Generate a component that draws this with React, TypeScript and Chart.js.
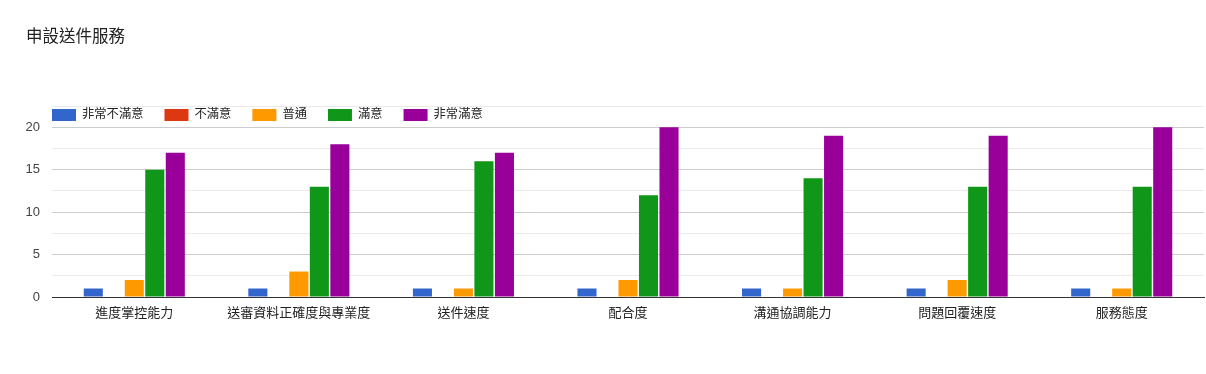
import React, { useEffect, useRef } from "react";
import { Chart, registerables } from "chart.js";

Chart.register(...registerables);

const title = "申設送件服務";
const categories = [
  "進度掌控能力",
  "送審資料正確度與專業度",
  "送件速度",
  "配合度",
  "溝通協調能力",
  "問題回覆速度",
  "服務態度",
];
const seriesNames = ["非常不滿意", "不滿意", "普通", "滿意", "非常滿意"];
const seriesColors = ["#3366cc", "#dc3912", "#ff9900", "#109618", "#990099"];
const veryUnsatisfied = [1, 1, 1, 1, 1, 1, 1];
const unsatisfied = [0, 0, 0, 0, 0, 0, 0];
const neutral = [2, 3, 1, 2, 1, 2, 1];
const satisfied = [15, 13, 16, 12, 14, 13, 13];
const verySatisfied = [17, 18, 17, 20, 19, 19, 20];
const seriesValues = [veryUnsatisfied, unsatisfied, neutral, satisfied, verySatisfied];
const yMax = 22.5;
const yStep = 2.5;

const FONT = "Arial, 'Liberation Sans', 'Noto Sans CJK TC', sans-serif";

const overlayPlugin = {
  id: "overlay",
  afterDraw(chart: any) {
    const ctx = chart.ctx;
    const area = chart.chartArea;
    ctx.save();
    // title
    ctx.fillStyle = "#212121";
    ctx.font = `16.5px ${FONT}`;
    ctx.textBaseline = "middle";
    ctx.textAlign = "left";
    ctx.fillText(title, 26, 37);
    // legend
    ctx.font = `12.3px ${FONT}`;
    let x = area.left;
    const y = 115;
    seriesNames.forEach((name, i) => {
      ctx.fillStyle = seriesColors[i];
      ctx.fillRect(x, y - 6, 24, 12);
      ctx.fillStyle = "#222222";
      ctx.fillText(name, x + 30, y);
      const w = ctx.measureText(name).width;
      x += 30 + w + 21;
    });
    ctx.restore();
  },
};

export default function App() {
  const ref = useRef<HTMLCanvasElement>(null);
  useEffect(() => {
    document.body.style.margin = "0";
    const chart = new Chart(ref.current!, {
      type: "bar",
      data: {
        labels: categories,
        datasets: seriesNames.map((name, i) => ({
          label: name,
          data: seriesValues[i],
          backgroundColor: seriesColors[i],
          borderWidth: 0,
          categoryPercentage: 0.623,
          barPercentage: 0.93,
        })),
      },
      options: {
        responsive: false,
        animation: false,
        layout: { padding: { top: 106, left: 0, right: 2, bottom: 0 } },
        plugins: {
          legend: { display: false },
          title: { display: false },
          tooltip: { enabled: false },
        },
        scales: {
          x: {
            grid: { display: false, drawTicks: false },
            border: { color: "#333333", width: 1 },
            ticks: {
              color: "#222222",
              font: { family: FONT, size: 13 },
              padding: 9,
              maxRotation: 0,
              autoSkip: false,
            },
            afterFit(scale: any) {
              scale.height = 77;
            },
          },
          y: {
            min: 0,
            max: yMax,
            border: { display: false },
            grid: {
              drawTicks: false,
              color: (c: any) =>
                c.tick && c.tick.value % 5 === 0 ? "#cccccc" : "#ebebeb",
            },
            ticks: {
              stepSize: yStep,
              color: "#444444",
              font: { family: FONT, size: 13 },
              padding: 12,
              callback: (v: any) => (Number(v) % 5 === 0 ? String(v) : ""),
            },
            afterFit(scale: any) {
              scale.width = 52;
            },
          },
        },
      },
      plugins: [overlayPlugin],
    });
    return () => chart.destroy();
  }, []);
  return (
    <div style={{ width: 1206, height: 374, background: "#fff" }}>
      <canvas ref={ref} width={1206} height={374} style={{ display: "block" }} />
    </div>
  );
}
